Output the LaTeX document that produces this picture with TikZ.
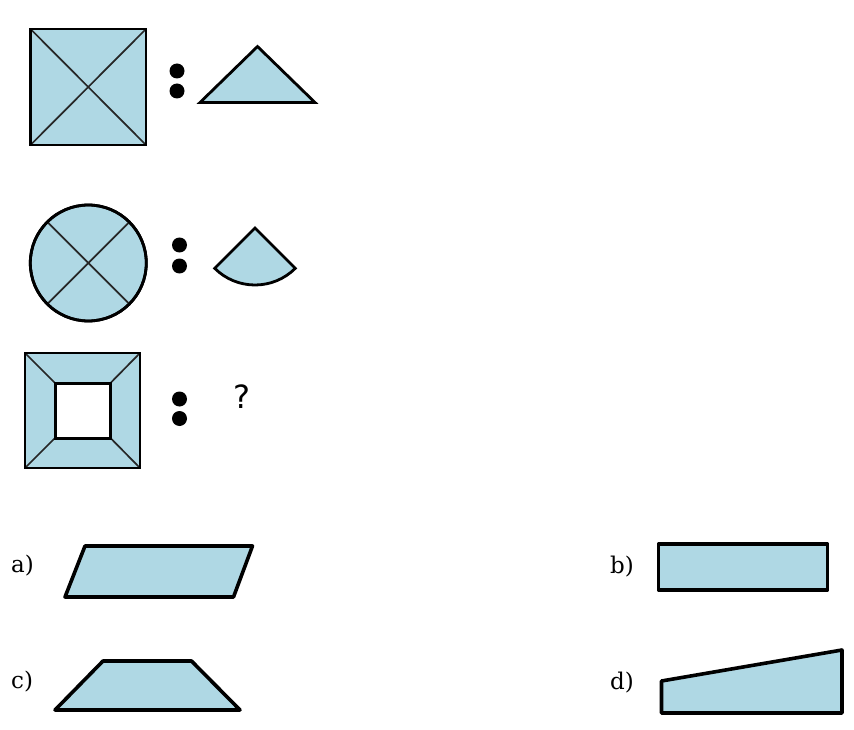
\documentclass[tikz,border=0pt]{standalone}
\usepackage{fontspec}
\newfontfamily\labfont{DejaVu Serif}
\newfontfamily\qfont{DejaVu Sans}
\definecolor{fillblue}{RGB}{175,216,228}
\begin{document}
\begin{tikzpicture}[x=1pt,y=-1pt,
  figshape/.style={fill=fillblue,draw=black,line width=2.8pt,line join=miter},
  opt/.style={fill=fillblue,draw=black,line width=3.6pt,line join=round},
  diag/.style={draw=black!85,line width=1.7pt},
  colondot/.style={fill=black},
  lab/.style={font=\labfont\fontsize{23}{26}\selectfont,inner sep=0pt,anchor=west}]
\useasboundingbox[fill=white] (0,0) rectangle (854,730);
% Row 1
\draw[figshape] (30.5,29) rectangle (146,145);
\draw[diag] (30.5,29) -- (146,145) (146,29) -- (30.5,145);
\draw[figshape,fill=none] (30.5,29) rectangle (146,145);
\fill[colondot] (177,71) circle[radius=7.5] (177,91) circle[radius=7.5];
\draw[figshape] (200,102.5) -- (257.5,46.5) -- (315,102.5) -- cycle;
% Row 2
\draw[figshape] (88.3,263) circle[radius=58];
\draw[diag] (88.3,263) ++(135:58) -- ++(-45:116);
\draw[diag] (88.3,263) ++(45:58) -- ++(225:116);
\draw[figshape,fill=none] (88.3,263) circle[radius=58];
\fill[colondot] (179.5,245) circle[radius=7.5] (179.5,266) circle[radius=7.5];
\draw[figshape] (255,228) -- ++(135:57) arc[start angle=135,end angle=45,radius=57] -- cycle;
% Row 3
\draw[figshape] (25,353) rectangle (140,468);
\draw[diag] (25,353) -- (55,383) (140,353) -- (110.5,383) (140,468) -- (110.5,438) (25,468) -- (55,438);
\draw[fill=white,draw=black,line width=3pt] (55,383) rectangle (110.5,438);
\draw[figshape,fill=none] (25,353) rectangle (140,468);
\fill[colondot] (179.5,399) circle[radius=7.5] (179.5,418.5) circle[radius=7.5];
\node[font=\qfont\fontsize{32}{36}\selectfont,inner sep=0pt] (q) at (241.5,397) {?};
% Options
\node[lab] (la) at (11,566) {a)};
\draw[opt] (85,546) -- (252.5,546) -- (233.5,597) -- (65,597) -- cycle;
\node[lab] (lb) at (610,566.5) {b)};
\draw[opt] (658.5,544) rectangle (827.5,590);
\node[lab] (lc) at (11,682) {c)};
\draw[opt] (103,661) -- (191.5,661) -- (240,710) -- (55,710) -- cycle;
\node[lab] (ld) at (610,683) {d)};
\draw[opt] (661.5,713) -- (661.5,681) -- (842,650) -- (842,713) -- cycle;
\end{tikzpicture}
\end{document}
